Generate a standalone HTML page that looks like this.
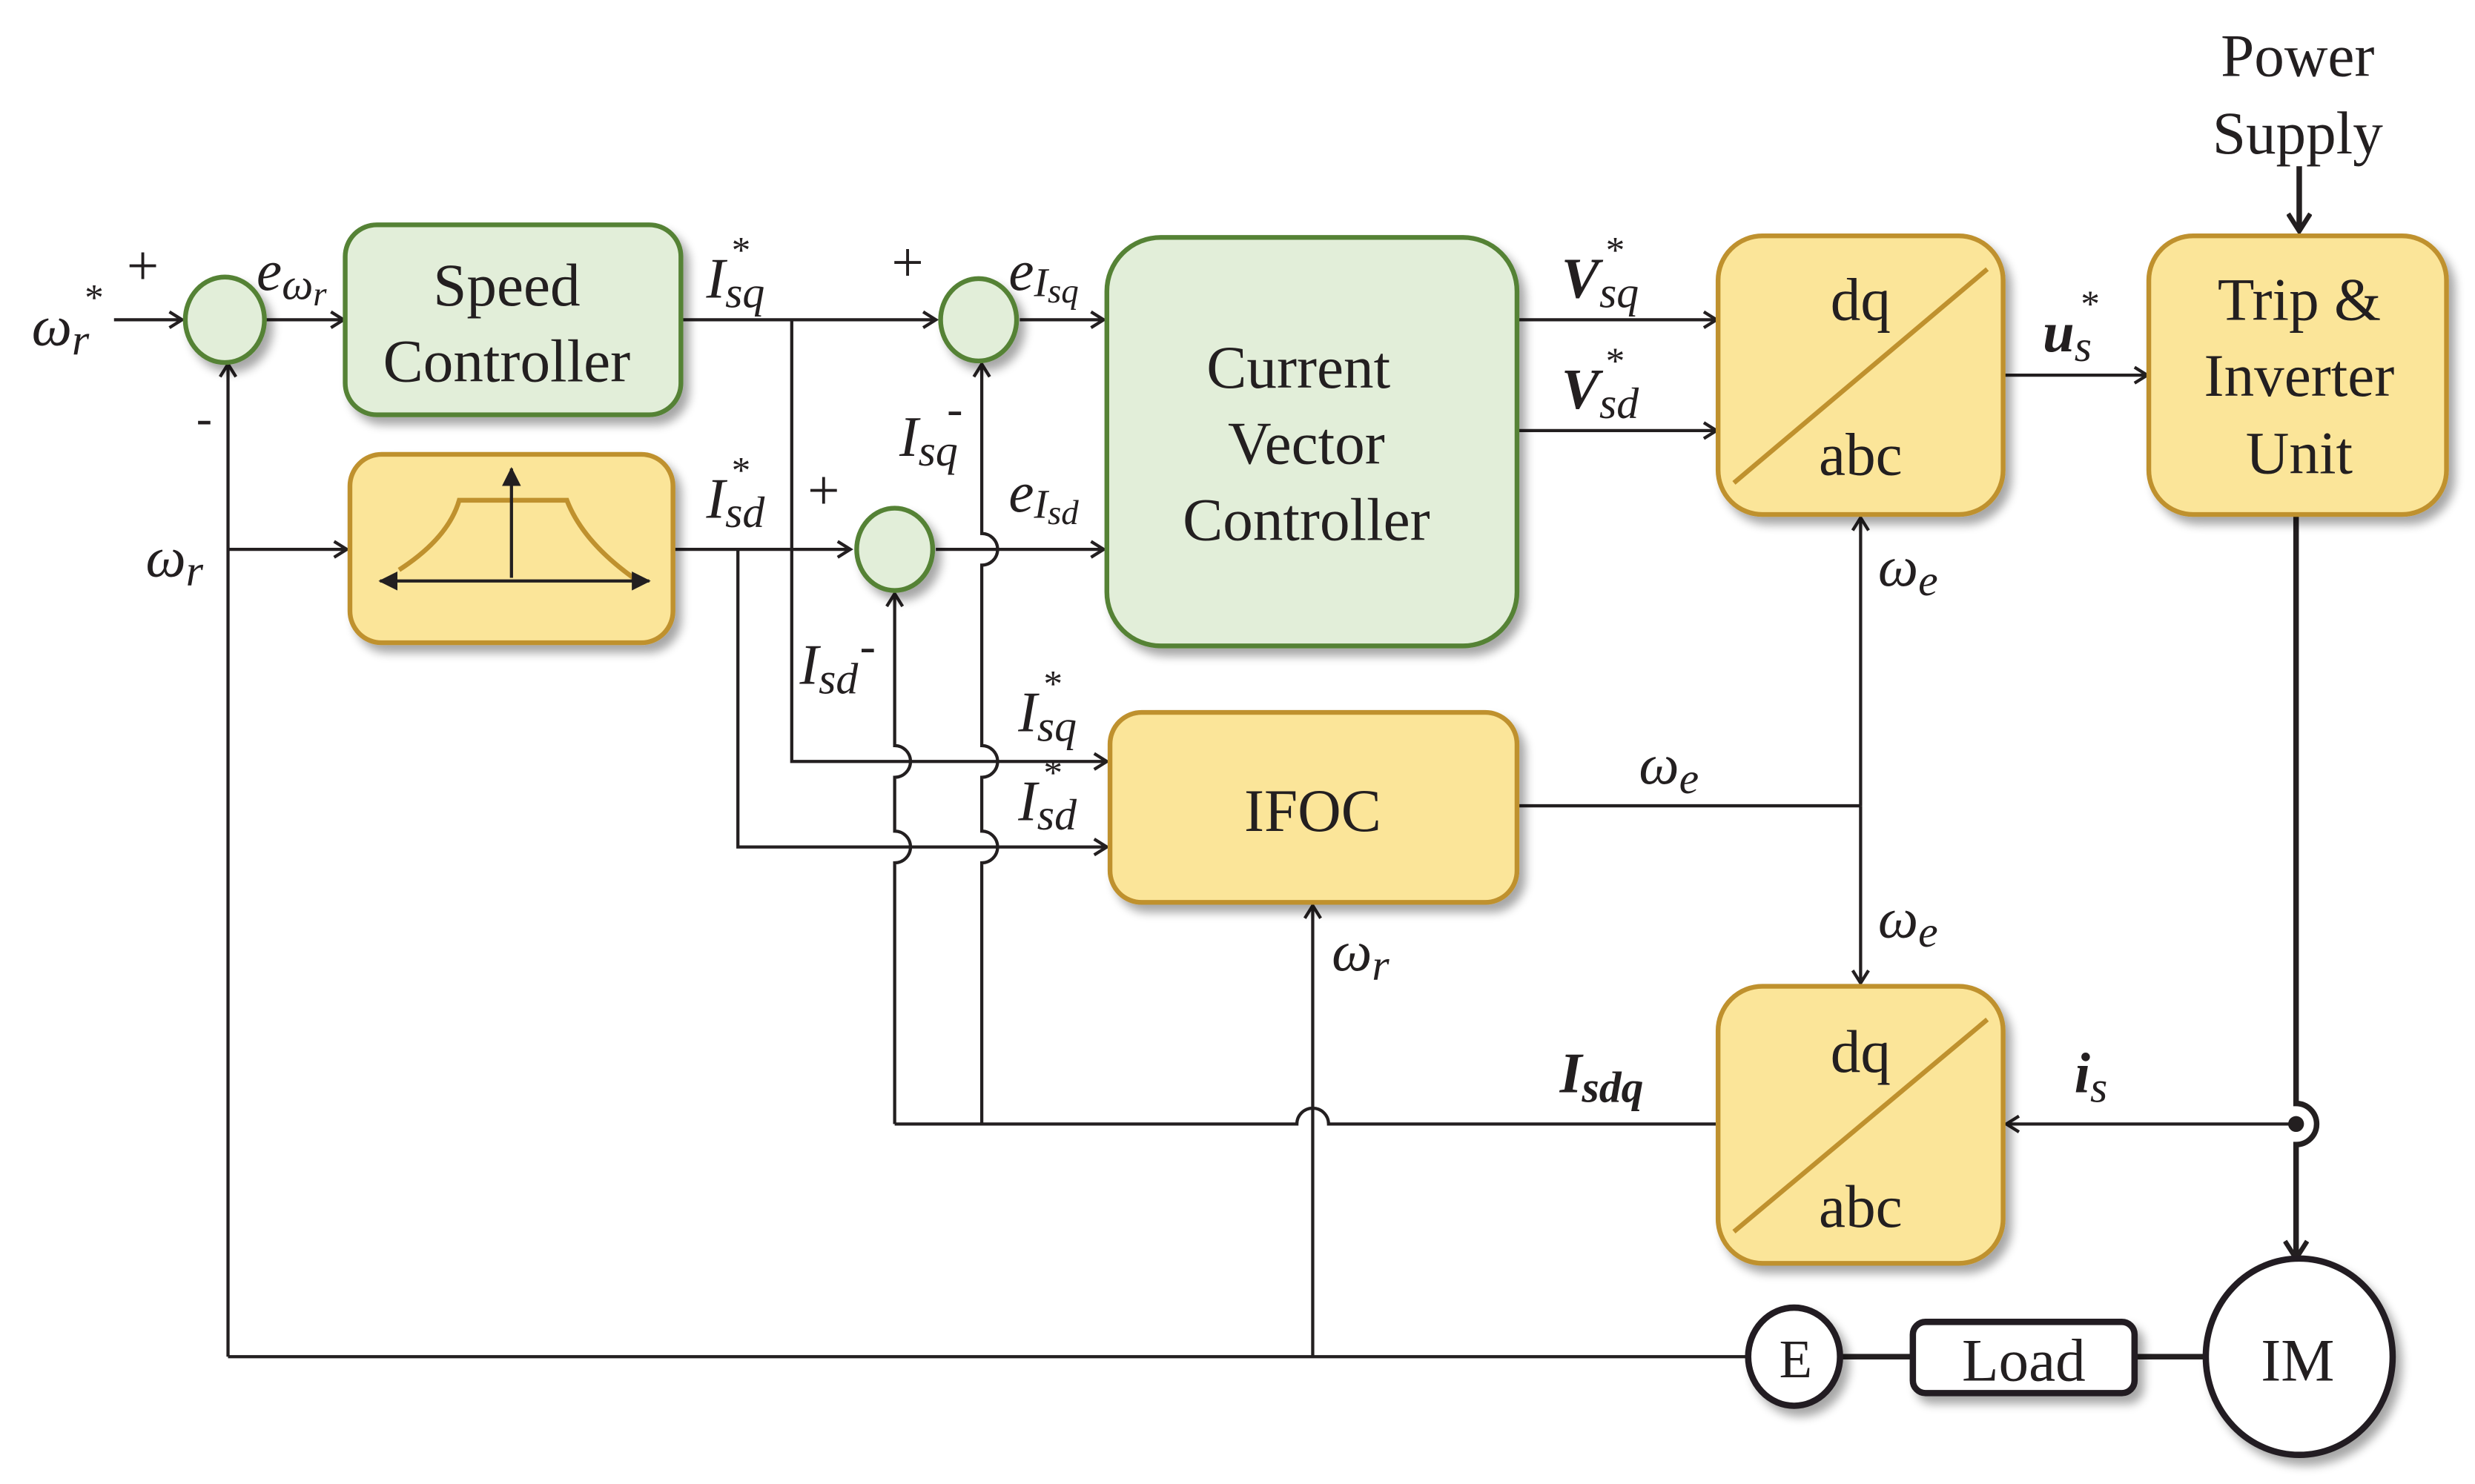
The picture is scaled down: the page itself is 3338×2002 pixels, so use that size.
<!DOCTYPE html>
<html><head><meta charset="utf-8"><style>
html,body{margin:0;padding:0;background:#fff;}
svg{display:block;}
text{font-family:"Liberation Serif",serif;fill:#231f20;}
.i{font-style:italic;}
</style></head><body>
<svg width="3338" height="2002" viewBox="0 0 1563 937.4" preserveAspectRatio="none" xmlns="http://www.w3.org/2000/svg">
<defs>
<filter id="sh" x="-10%" y="-10%" width="130%" height="130%">
<feGaussianBlur in="SourceAlpha" stdDeviation="3"/>
<feOffset dx="4" dy="5"/>
<feComponentTransfer><feFuncA type="linear" slope="0.35"/></feComponentTransfer>
<feMerge><feMergeNode/><feMergeNode in="SourceGraphic"/></feMerge>
</filter>
<marker id="a" markerWidth="12" markerHeight="12" refX="10" refY="6" orient="auto" markerUnits="userSpaceOnUse">
<path d="M2,1 L10,6 L2,11" fill="none" stroke="#231f20" stroke-width="2"/>
</marker>
<marker id="ab" markerWidth="16" markerHeight="16" refX="13" refY="8" orient="auto" markerUnits="userSpaceOnUse">
<path d="M2,1 L13,8 L2,15" fill="none" stroke="#231f20" stroke-width="3"/>
</marker>
<marker id="tri" markerWidth="12" markerHeight="12" refX="11" refY="6" orient="auto" markerUnits="userSpaceOnUse">
<path d="M0,0 L12,6 L0,12 Z" fill="#231f20"/>
</marker>
</defs>

<g stroke="#231f20" stroke-width="2" fill="none">
<line x1="72" y1="202" x2="115" y2="202" marker-end="url(#a)"/>
<line x1="168" y1="202" x2="217" y2="202" marker-end="url(#a)"/>
<path d="M144,857 L144,230" marker-end="url(#a)"/>
<line x1="144" y1="347" x2="219" y2="347" marker-end="url(#a)"/>
<line x1="144" y1="857" x2="1105" y2="857"/>
<line x1="430" y1="202" x2="591" y2="202" marker-end="url(#a)"/>
<path d="M500,202 L500,481 L699,481" marker-end="url(#a)"/>
<line x1="425" y1="347" x2="537" y2="347" marker-end="url(#a)"/>
<path d="M466,347 L466,535 L699,535" marker-end="url(#a)"/>
<line x1="644" y1="202" x2="697" y2="202" marker-end="url(#a)"/>
<line x1="591" y1="347" x2="697" y2="347" marker-end="url(#a)"/>
<path d="M620,710 L620,545 A10,10 0 0 0 620,525 L620,491 A10,10 0 0 0 620,471 L620,357 A10,10 0 0 0 620,337 L620,230" marker-end="url(#a)"/>
<path d="M565,710 L565,545 A10,10 0 0 0 565,525 L565,491 A10,10 0 0 0 565,471 L565,375" marker-end="url(#a)"/>
<path d="M1085,710 L839,710 A10,10 0 0 0 819,710 L565,710"/>
<path d="M829,857 L829,572" marker-end="url(#a)"/>
<line x1="958" y1="509" x2="1175" y2="509"/>
<path d="M1175,509 L1175,327" marker-end="url(#a)"/>
<path d="M1175,509 L1175,621" marker-end="url(#a)"/>
<line x1="958" y1="202" x2="1084" y2="202" marker-end="url(#a)"/>
<line x1="958" y1="272" x2="1084" y2="272" marker-end="url(#a)"/>
<line x1="1265" y1="237" x2="1356" y2="237" marker-end="url(#a)"/>
<line x1="1450" y1="710" x2="1267" y2="710" marker-end="url(#a)"/>
</g>
<g stroke="#231f20" stroke-width="3.5" fill="none">
<line x1="1452" y1="105" x2="1452" y2="146" marker-end="url(#ab)"/>
<path d="M1450,325 L1450,697 A13,13 0 0 1 1450,723 L1450,795" marker-end="url(#ab)"/>
<line x1="1160" y1="857" x2="1208" y2="857"/>
<line x1="1348" y1="857" x2="1394" y2="857"/>
</g>
<circle cx="1450" cy="710" r="5" fill="#231f20"/>

<g filter="url(#sh)">
<rect x="218" y="142" width="212" height="120" rx="20" fill="#e2eed9" stroke="#548235" stroke-width="3"/>
<rect x="221" y="287" width="204" height="119" rx="20" fill="#fbe599" stroke="#bf912e" stroke-width="3"/>
<rect x="699" y="150" width="259" height="258" rx="34" fill="#e2eed9" stroke="#548235" stroke-width="3"/>
<rect x="1085" y="149" width="180" height="176" rx="28" fill="#fbe599" stroke="#bf912e" stroke-width="3"/>
<rect x="1357" y="149" width="188" height="176" rx="28" fill="#fbe599" stroke="#bf912e" stroke-width="3"/>
<rect x="701" y="450" width="257" height="120" rx="20" fill="#fbe599" stroke="#bf912e" stroke-width="3"/>
<rect x="1085" y="623" width="180" height="175" rx="28" fill="#fbe599" stroke="#bf912e" stroke-width="3"/>
<ellipse cx="142" cy="202" rx="25" ry="27" fill="#e2eed9" stroke="#548235" stroke-width="3"/>
<ellipse cx="618" cy="202" rx="24" ry="26" fill="#e2eed9" stroke="#548235" stroke-width="3"/>
<ellipse cx="565" cy="347" rx="24" ry="26" fill="#e2eed9" stroke="#548235" stroke-width="3"/>
<ellipse cx="1133" cy="857" rx="29" ry="31" fill="#fff" stroke="#231f20" stroke-width="4"/>
<rect x="1208" y="835" width="140" height="45" rx="8" fill="#fff" stroke="#231f20" stroke-width="4"/>
<ellipse cx="1452" cy="857" rx="59" ry="62" fill="#fff" stroke="#231f20" stroke-width="4"/>
</g>
<path d="M252,360 Q283,340 290,316 L358,316 Q368,342 400,365" fill="none" stroke="#bf912e" stroke-width="3"/>
<line x1="323" y1="365" x2="323" y2="296" stroke="#231f20" stroke-width="2" marker-end="url(#tri)"/>
<line x1="250" y1="367" x2="240" y2="367" stroke="#231f20" stroke-width="2" marker-end="url(#tri)"/>
<line x1="246" y1="367" x2="410" y2="367" stroke="#231f20" stroke-width="2" marker-end="url(#tri)"/>
<line x1="1095" y1="305" x2="1255" y2="170" stroke="#bf912e" stroke-width="3"/>
<line x1="1095" y1="778" x2="1255" y2="644" stroke="#bf912e" stroke-width="3"/>

<g font-size="38" text-anchor="middle">
<text x="320" y="193">Speed</text>
<text x="320" y="241">Controller</text>
<text x="820" y="245">Current</text>
<text x="825" y="293">Vector</text>
<text x="825" y="341">Controller</text>
<text x="1175" y="202">dq</text>
<text x="1175" y="300">abc</text>
<text x="1175" y="677">dq</text>
<text x="1175" y="775">abc</text>
<text x="1452" y="202">Trip &amp;</text>
<text x="1452" y="250">Inverter</text>
<text x="1452" y="299">Unit</text>
<text x="829" y="525">IFOC</text>
<text x="1451" y="48">Power</text>
<text x="1451" y="97">Supply</text>
<text x="1278" y="872">Load</text>
<text x="1451" y="872">IM</text>
<text x="1134" y="870" font-size="34">E</text>
</g>
<g font-size="36">
<text x="80" y="180">+</text>
<text x="563" y="178">+</text>
<text x="510" y="322">+</text>
<text x="124" y="274" font-size="30">-</text>
<text x="598" y="268" font-size="30">-</text>
<text x="543" y="418" font-size="30">-</text>
</g>
<g font-size="36">
<text x="20" y="218" class="i">ω<tspan font-size="28" dy="6">r</tspan><tspan font-size="24" dx="-4" dy="-28">*</tspan></text>
<text x="162" y="183" class="i">e<tspan font-size="28" dy="6">ω</tspan><tspan font-size="22" dy="4">r</tspan></text>
<text x="92" y="364" class="i">ω<tspan font-size="28" dy="6">r</tspan></text>
<text x="446" y="188" class="i">I<tspan font-size="28" dy="6">sq</tspan><tspan font-size="24" dx="-22" dy="-28">*</tspan></text>
<text x="446" y="327" class="i">I<tspan font-size="28" dy="6">sd</tspan><tspan font-size="24" dx="-22" dy="-28">*</tspan></text>
<text x="637" y="183" class="i">e<tspan font-size="26" dy="4">I</tspan><tspan font-size="22" dy="4">sq</tspan></text>
<text x="637" y="323" class="i">e<tspan font-size="26" dy="4">I</tspan><tspan font-size="22" dy="4">sd</tspan></text>
<text x="568" y="288" class="i">I<tspan font-size="28" dy="6">sq</tspan></text>
<text x="505" y="432" class="i">I<tspan font-size="28" dy="6">sd</tspan></text>
<text x="643" y="462" class="i">I<tspan font-size="28" dy="6">sq</tspan><tspan font-size="24" dx="-22" dy="-28">*</tspan></text>
<text x="643" y="518" class="i">I<tspan font-size="28" dy="6">sd</tspan><tspan font-size="24" dx="-22" dy="-28">*</tspan></text>
<text x="1035" y="495" class="i">ω<tspan font-size="28" dy="6">e</tspan></text>
<text x="1186" y="370" class="i">ω<tspan font-size="28" dy="6">e</tspan></text>
<text x="1186" y="592" class="i">ω<tspan font-size="28" dy="6">e</tspan></text>
<text x="841" y="613" class="i">ω<tspan font-size="28" dy="6">r</tspan></text>
<text x="986" y="188" class="i" font-weight="bold">V<tspan font-size="28" dy="6" font-weight="normal">sq</tspan><tspan font-size="24" dx="-22" dy="-28" font-weight="normal">*</tspan></text>
<text x="986" y="258" class="i" font-weight="bold">V<tspan font-size="28" dy="6" font-weight="normal">sd</tspan><tspan font-size="24" dx="-22" dy="-28" font-weight="normal">*</tspan></text>
<text x="1290" y="222" class="i" font-weight="bold">u<tspan font-size="28" dy="6" font-weight="normal">s</tspan><tspan font-size="24" dx="-8" dy="-28" font-weight="normal">*</tspan></text>
<text x="985" y="690" class="i" font-weight="bold">I<tspan font-size="28" dy="6">sdq</tspan></text>
<text x="1310" y="690" class="i" font-weight="bold">i<tspan font-size="28" dy="6" font-weight="normal">s</tspan></text>
</g>
</svg>
</body></html>
